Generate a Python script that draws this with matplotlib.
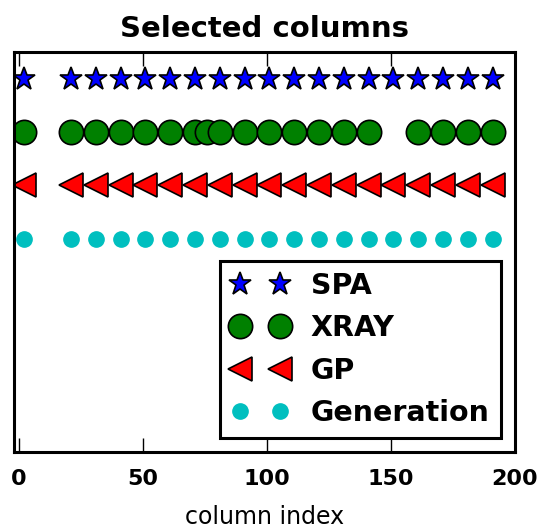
import numpy as np
import matplotlib
matplotlib.use('Agg')
import matplotlib.pyplot as plt

# selected column indices per method
spa = [2, 21, 31, 41, 51, 61, 71, 81, 91, 101, 111, 121, 131, 141, 151, 161, 171, 181, 191]
xray = [2, 21, 31, 41, 51, 61, 71, 76, 81, 91, 101, 111, 121, 131, 141, 161, 171, 181, 191]
gp = [2, 21, 31, 41, 51, 61, 71, 81, 91, 101, 111, 121, 131, 141, 151, 161, 171, 181, 191]
generation = [2, 21, 31, 41, 51, 61, 71, 81, 91, 101, 111, 121, 131, 141, 151, 161, 171, 181, 191]

xticks = [0, 50, 100, 150, 200]

fig = plt.figure(figsize=(5.48, 5.31), dpi=100)
ax = fig.add_axes([0.0255, 0.149, 0.914, 0.753])

ax.plot(spa, 4 * np.ones(len(spa)), '*', color='b', markersize=17,
        markeredgecolor='k', markeredgewidth=1.2, label='SPA', linestyle='none')
ax.plot(xray, 3 * np.ones(len(xray)), 'o', color='g', markersize=17.5,
        markeredgecolor='k', markeredgewidth=1.2, label='XRAY', linestyle='none')
ax.plot(gp, 2 * np.ones(len(gp)), '<', color='r', markersize=17.5,
        markeredgecolor='k', markeredgewidth=1.2, label='GP', linestyle='none')
ax.plot(generation, np.ones(len(generation)), '.', color='c', markersize=22,
        markeredgecolor='c', label='Generation', linestyle='none')

ax.set_xlim(-2, 200)
ax.set_ylim(-3, 4.5)
ax.set_yticks([])
ax.set_xticks(xticks)
ax.tick_params(axis='x', direction='in', top=True, length=10, width=1, pad=12)
for lab in ax.get_xticklabels():
    lab.set_fontsize(16)
    lab.set_fontweight('bold')
for sp in ax.spines.values():
    sp.set_linewidth(2.2)

ax.set_title('Selected columns', fontsize=21, fontweight='bold', pad=11)
ax.set_xlabel('column index', fontsize=17, labelpad=12)

leg = ax.legend(loc='lower right', numpoints=2, fancybox=False, framealpha=1,
                prop={'size': 20.5, 'weight': 'bold'}, handletextpad=0.8,
                labelspacing=0.5, borderaxespad=0.48)
leg.get_frame().set_edgecolor('k')
leg.get_frame().set_linewidth(2.2)

plt.savefig('out.png', dpi=100)
